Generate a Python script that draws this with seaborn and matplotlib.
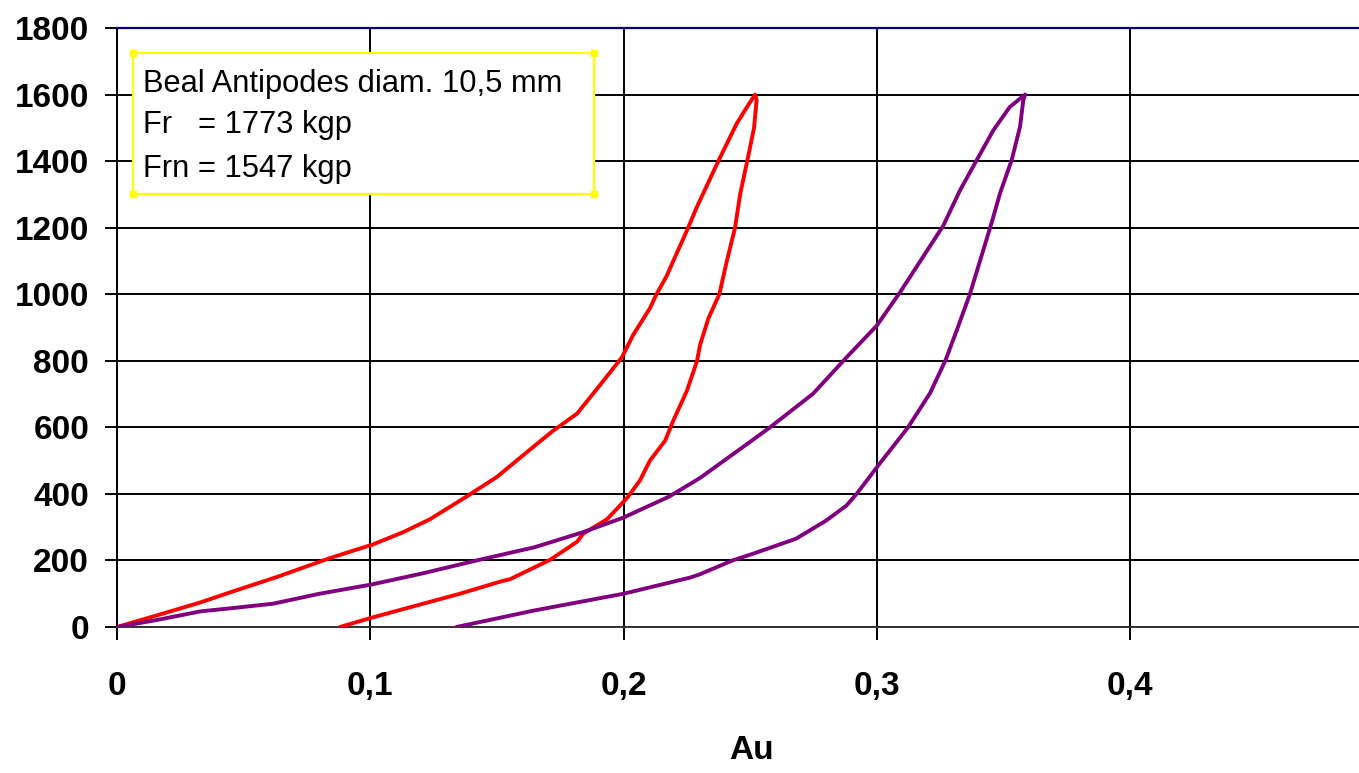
import numpy as np
import pandas as pd
import matplotlib
matplotlib.use("Agg")
import matplotlib.pyplot as plt
from matplotlib.patches import Rectangle
from matplotlib.ticker import FuncFormatter
import seaborn as sns

# ---- data ----
red_load_x = [0, 0.018, 0.033, 0.0446, 0.063, 0.084, 0.101, 0.113, 0.1236, 0.138, 0.150, 0.160,
              0.1717, 0.1816, 0.1907, 0.1993, 0.2038, 0.2104, 0.213, 0.217, 0.2195, 0.2255,
              0.2288, 0.2374, 0.2446, 0.2485, 0.2519]
red_load_y = [0, 40, 74, 104, 150, 207, 248, 285, 324, 392, 451, 514,
              587, 641, 727, 810, 878, 958, 1000, 1055, 1098, 1200,
              1260, 1400, 1512, 1560, 1600]
red_unload_x = [0.2525, 0.2515, 0.2488, 0.246, 0.244, 0.2407, 0.2378, 0.2335, 0.2302,
                0.229, 0.225, 0.2196, 0.2164, 0.2104, 0.2065, 0.2013, 0.1935, 0.184, 0.1816,
                0.171, 0.155, 0.1525, 0.1354, 0.101, 0.088]
red_unload_y = [1583, 1500, 1400, 1300, 1200, 1098, 1000, 928, 848,
                800, 710, 620, 560, 500, 441, 387, 324, 280, 256,
                202, 143, 139, 100, 29, 0]

purple_load_x = [0, 0.015, 0.033, 0.0446, 0.0616, 0.08, 0.1, 0.12, 0.142, 0.165, 0.184, 0.2,
                 0.218, 0.2302, 0.2506, 0.2578, 0.2748, 0.2881, 0.300, 0.3095, 0.3262, 0.3328,
                 0.3394, 0.346, 0.3525, 0.3585]
purple_load_y = [0, 20, 47, 56, 70, 100, 127, 160, 200, 240, 285, 329,
                 392, 448, 560, 600, 701, 811, 906, 1010, 1206, 1312,
                 1403, 1493, 1563, 1600]
purple_unload_x = [0.3578, 0.3565, 0.3532, 0.3486, 0.3455, 0.3407, 0.3367, 0.3316, 0.327,
                   0.321, 0.3123, 0.3012, 0.292, 0.288, 0.280, 0.268, 0.251, 0.243, 0.230,
                   0.226, 0.2, 0.165, 0.134]
purple_unload_y = [1583, 1503, 1403, 1303, 1220, 1100, 1000, 893, 800,
                   703, 600, 492, 400, 365, 320, 265, 220, 200, 158,
                   148, 100, 50, 0]

series_names = ["red", "purple"]
series_colors = ["#FF0000", "#800080"]
x_ticks = [0, 0.1, 0.2, 0.3, 0.4]
y_ticks = [0, 200, 400, 600, 800, 1000, 1200, 1400, 1600, 1800]
x_label = "Au"
box_lines = ["Beal Antipodes diam. 10,5 mm", "Fr   = 1773 kgp", "Frn = 1547 kgp"]

# ---- build table ----
rows = []
for name, xs, ys in [("red", red_load_x + red_unload_x, red_load_y + red_unload_y),
                     ("purple", purple_load_x + purple_unload_x, purple_load_y + purple_unload_y)]:
    for i, (xv, yv) in enumerate(zip(xs, ys)):
        rows.append({"series": name, "order": i, "x": xv, "y": yv})
df = pd.DataFrame(rows)

sns.set_style("white")
plt.rcParams["font.family"] = ["Liberation Sans", "DejaVu Sans"]
plt.rcParams["text.color"] = "black"
plt.rcParams["axes.labelcolor"] = "black"
plt.rcParams["xtick.color"] = "black"
plt.rcParams["ytick.color"] = "black"

fig = plt.figure(figsize=(13.59, 7.73), dpi=100)
W, H = 1359, 773
ax_left, ax_right, ax_top, ax_bottom = 117, 1359, 28, 627
ax = fig.add_axes([ax_left / W, 1 - ax_bottom / H, (ax_right - ax_left) / W, (ax_bottom - ax_top) / H])

sns.lineplot(data=df, x="x", y="y", hue="series", palette=dict(zip(series_names, series_colors)),
             sort=False, estimator=None, units="series", linewidth=2.8, legend=False, ax=ax, zorder=3)

ax.set_xlim(0, (ax_right - ax_left) / 2533.0)
ax.set_ylim(0, 1800)
ax.set_xticks(x_ticks)
ax.set_yticks(y_ticks)
ax.xaxis.set_major_formatter(FuncFormatter(lambda v, p: "0" if abs(v) < 1e-9 else f"{v:.1f}".replace(".", ",")))
ax.yaxis.set_major_formatter(FuncFormatter(lambda v, p: f"{int(round(v))}"))

ax.grid(True, color="black", linewidth=1.4)
ax.set_axisbelow(True)
ax.spines["right"].set_visible(False)
ax.spines["top"].set_color("#000080")
ax.spines["top"].set_linewidth(1.6)
ax.spines["left"].set_color("black")
ax.spines["left"].set_linewidth(1.4)
ax.spines["bottom"].set_color("#333333")
ax.spines["bottom"].set_linewidth(1.4)

ax.tick_params(axis="both", which="major", direction="out", length=9, width=1.4, color="black",
               labelcolor="black", left=True, bottom=True)
ax.tick_params(axis="x", pad=23, labelsize=24)
ax.tick_params(axis="y", pad=11, labelsize=24)
for lab in ax.get_xticklabels() + ax.get_yticklabels():
    lab.set_fontweight("bold")

ax.set_xlabel(x_label, fontsize=24, fontweight="bold", color="black")
ax.xaxis.set_label_coords(0.511, -0.181)
ax.set_ylabel("")

# text box
aw, ah = ax_right - ax_left, ax_bottom - ax_top
bx0 = (133 - ax_left) / aw
bx1 = (594 - ax_left) / aw
by1 = (ax_bottom - 53) / ah
by0 = (ax_bottom - 194) / ah
rect = Rectangle((bx0, by0), bx1 - bx0, by1 - by0, transform=ax.transAxes, facecolor="white",
                 edgecolor="#FFFF00", linewidth=1.6, zorder=4, clip_on=False)
ax.add_patch(rect)
ax.scatter([bx0, bx1, bx0, bx1], [by0, by0, by1, by1], transform=ax.transAxes, marker="s",
           s=14, color="#FFFF00", zorder=5, clip_on=False)
baselines = [91.7, 133.3, 176.7]
for txt, bl in zip(box_lines, baselines):
    ax.text((142.7 - ax_left) / aw, (ax_bottom - bl) / ah, txt, transform=ax.transAxes,
            fontsize=22.2, va="baseline", ha="left", color="black", zorder=6)

fig.savefig("out.png", dpi=100)
